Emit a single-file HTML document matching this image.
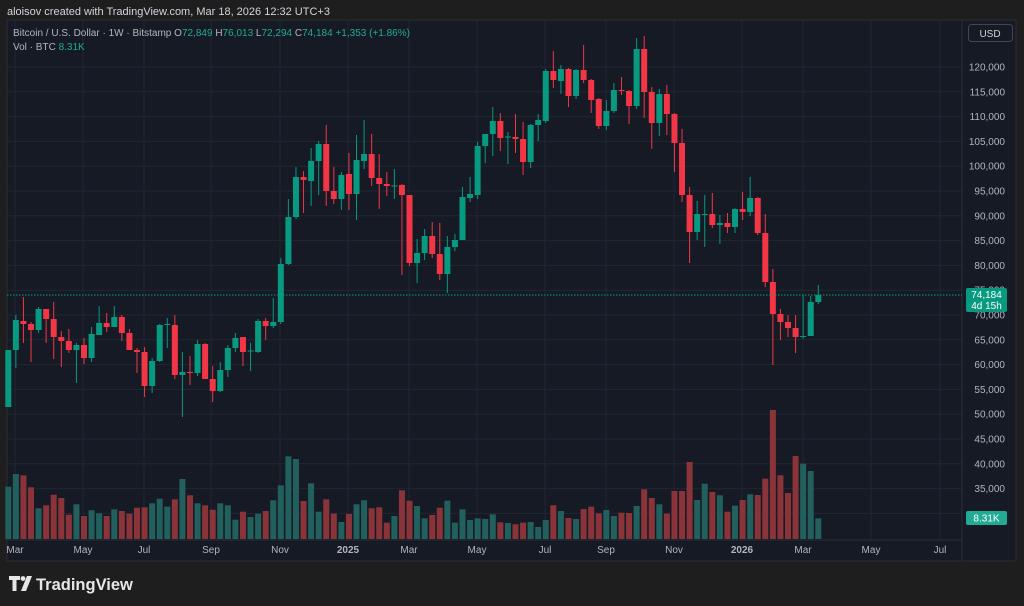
<!DOCTYPE html>
<html><head><meta charset="utf-8"><style>
body{margin:0;width:1024px;height:606px;background:#1e1e1e;overflow:hidden;font-family:"Liberation Sans",sans-serif}
svg{position:absolute;left:0;top:0}
</style></head><body>
<svg id="s" width="1024" height="606" xmlns="http://www.w3.org/2000/svg">
<rect x="7" y="20" width="1009" height="541" fill="#161a25" stroke="#2a2e39" stroke-width="1"/>
<g id="grid"></g><g id="vol"></g><g id="cdl"></g><g id="axis"></g>
<text x="7" y="15" font-size="11" fill="#d1d4dc">aloisov created with TradingView.com, Mar 18, 2026 12:32 UTC+3</text>
<text x="13" y="36" font-size="10" fill="#b2b5be">Bitcoin / U.S. Dollar · 1W · Bitstamp <tspan fill="#b2b5be">O</tspan><tspan fill="#22ab94">72,849</tspan> <tspan fill="#b2b5be">H</tspan><tspan fill="#22ab94">76,013</tspan> <tspan fill="#b2b5be">L</tspan><tspan fill="#22ab94">72,294</tspan> <tspan fill="#b2b5be">C</tspan><tspan fill="#22ab94">74,184 +1,353 (+1.86%)</tspan></text>
<text x="13" y="50" font-size="10" fill="#b2b5be">Vol · BTC <tspan fill="#22ab94">8.31K</tspan></text>
<rect x="968.5" y="24.5" width="44" height="17" rx="3" fill="#161a25" stroke="#434651"/>
<text x="990" y="37" font-size="10" fill="#d1d4dc" text-anchor="middle">USD</text>
<line x1="7" y1="295" x2="962" y2="295" stroke="#089981" stroke-dasharray="1.5 1.5" stroke-width="1"/>
<rect x="966" y="288" width="41" height="24" rx="2" fill="#089981"/>
<text x="986.5" y="298" font-size="10" fill="#fff" text-anchor="middle">74,184</text>
<text x="986.5" y="309" font-size="10" fill="#fff" text-anchor="middle">4d 15h</text>
<rect x="966" y="511" width="41" height="14" rx="2" fill="#22ab94"/>
<text x="986.5" y="521.5" font-size="10" fill="#fff" text-anchor="middle">8.31K</text>
<g fill="#e6e6e6"><path d="M9 576h11v4h-3.5v11h-4v-11h-3.5z"/><circle cx="23" cy="578.5" r="2.4"/><path d="M27 576h5l-6 15h-5z"/></g>
<text x="36" y="590" font-size="16.5" font-weight="bold" fill="#e6e6e6">TradingView</text>
</svg>
<script>
(function(){
var NS="http://www.w3.org/2000/svg";
function el(p,t,a){var e=document.createElementNS(NS,t);for(var k in a)e.setAttribute(k,a[k]);document.getElementById(p).appendChild(e);return e;}
for(var v=120000;v>=30000;v-=5000){var y=67+(120000-v)/5000*24.8;
 el("grid","line",{x1:7,x2:962,y1:y,y2:y,stroke:"#222632","stroke-width":1});
 if(v>30000){var t=el("axis","text",{x:1005,y:y+3.5,"font-size":10,fill:"#b2b5be","text-anchor":"end"});t.textContent=v.toLocaleString("en-US");}}
var mx=[[15,"Mar"],[83,"May"],[144,"Jul"],[211,"Sep"],[280,"Nov"],[348,"2025"],[409,"Mar"],[477,"May"],[545,"Jul"],[606,"Sep"],[674,"Nov"],[742,"2026"],[803,"Mar"],[871,"May"],[940,"Jul"]];
mx.forEach(function(m){el("grid","line",{x1:m[0],x2:m[0],y1:20,y2:540,stroke:"#222632"});
 var t=el("axis","text",{x:m[0],y:553,"font-size":10,fill:"#b2b5be","text-anchor":"middle"});
 if(m[1].length==4)t.setAttribute("font-weight","bold");t.textContent=m[1];});
el("grid","line",{x1:962,x2:962,y1:20,y2:561,stroke:"#2a2e39"});
el("grid","line",{x1:7,x2:962,y1:540,y2:540,stroke:"#2a2e39"});
var C=[[407,350,407,350],[350,315,368,320],[321,297,343,324],[324,322,362,330],[330,307,333,309],[309,309,343,319],[319,302,359,337],[337,331,367,341],[341,329,353,350],[350,343,383,345],[345,338,364,358],[358,327,362,334],[335,306,335,323],[323,313,332,327],[327,306,327,317],[317,315,341,333],[333,329,350,350],[350,348,373,352],[352,347,397,386],[386,358,393,361],[361,324,362,325],[325,318,348,324],[325,315,379,375],[375,352,417,372],[372,356,385,373],[373,340,376,344],[344,343,379,379],[379,366,402,391],[391,362,392,370],[370,345,377,348],[348,333,352,338],[337,337,366,352],[351,343,371,350.5],[352,319,353,321],[321,318,340,326],[326,298,328,322],[322,258,324,264],[264,199,265,217],[217,167,219,177],[177,171,213,180],[181,148,206,161],[161,141,195,144],[144,125,206,191],[191,167,204,199],[199,172,210,175],[174,153,210,194],[194,135,220,160],[161,120,169,154],[154,134,186,178],[178,154,209,184],[184,172,196,186],[186,169,199,185.5],[185,184,275,195],[195,195,266,263],[263,239,283,253],[253,229,260,236],[236,222,258,254],[254,223,280,274],[274,236,293,247],[247,234,251,240],[240,187,240,197],[198,177,202,194],[195,142,199,146],[146,134,163,134],[134,107,156,121],[121,113,151,138],[137,132,164,136.5],[137,114,153,139],[139,122,175,162],[162,124,168,125],[125,114,141,120],[121,69,123,71],[71,51,88,80],[81,65,94,69],[69,68,107,96],[96,69,99,70],[70,45,83,80],[80,79,113,100],[99,98,129,126],[126,100,130,111],[111,83,113,90],[90,77,95,91],[91,90,124,106],[106,38,109,49],[49,36,118,92],[92,87,149,123],[123,89,136,94],[94,85,135,114],[114,113,172,143],[143,129,202,195],[195,187,263,232],[232,201,240,214],[214.5,195,247,214],[214,193,228,225],[225,215,244,223],[223,213,233,227],[227,208,233,209],[209,192,220,212],[212,177,216,198],[198,197,235,233],[233,214,287,282],[282,269,365,314],[314,309,340,322],[322,315,337,328],[328,315,353,337],[336.5,295,339,336],[336,296,336,302],[302,285,304,295]];
var VT1=[52.3,65,63.7,51.7,30.7,33.7,44.3,41,24.3,34.7,23,28.7,25.7,23,29.7,28,25.3,31.3,31.7,35.7,40.3,32.3,39.7,60,43.7,35.7,33.7,29.3,35.7,33.7,19.3,27.3,22,25.3,28,38.7,53.7,82.7,80,38,55.7,27.3,39.7,25.3,17,25,34.7,38.7,30.7,31.7,16.3,23,48.7,38.3,33];
var z=[355,345,323,302,368,328,360,355,357,343,367,369,373,368,366,381,360,316,333,354,357,327,320,340,330,348,338,339,318,268,294,313,341,273,273,186,300,251,276,286,335,317,300,283,285,236,30,226,279,168,191,213,355];
var V=VT1.concat(z.map(function(q){return (417-q)/3;}));
for(var i=0;i<C.length;i++){var c=C[i],x=8.3+i*7.57;var up=c[3]<=c[0];
 var col=up?"#089981":"#f23645",vc=up?"#22605e":"#8a3439";
 var h=V[i]||0;el("vol","rect",{x:x-3,y:539-h,width:6,height:h,fill:vc});
 el("cdl","line",{x1:x,x2:x,y1:c[1],y2:c[2],stroke:col,"stroke-width":1});
 var by=Math.min(c[0],c[3]),bh=Math.max(1,Math.abs(c[0]-c[3]));
 el("cdl","rect",{x:x-3,y:by,width:6,height:bh,fill:col});}
})();
</script>
</body></html>
